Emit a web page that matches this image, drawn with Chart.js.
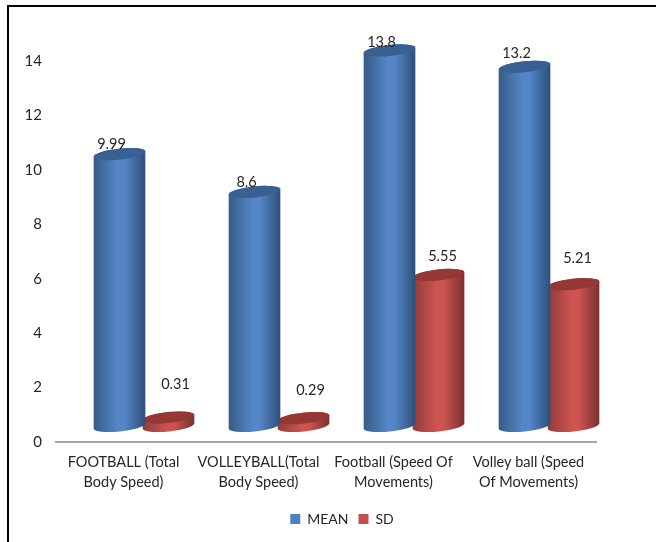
<!DOCTYPE html>
<html>
<head>
<meta charset="utf-8">
<title>Speed: mean and SD</title>
<style>
    html, body { margin: 0; padding: 0; background: #fff; }
    #wrap { position: relative; width: 656px; height: 542px; overflow: hidden; }
    #frame { position: absolute; left: 7px; top: 5px; right: -4px; bottom: -4px; border: 2px solid #000; }
    canvas { position: absolute; left: 0; top: 0; }
</style>
<script src="https://cdn.jsdelivr.net/npm/chart.js@4"></script>
</head>
<body>
<div id="wrap">
    <div id="frame"></div>
    <canvas id="speedChart" width="656" height="542"></canvas>
</div>
<script>
// Chart values
const categories = [
    ['FOOTBALL (Total', 'Body Speed)'],
    ['VOLLEYBALL(Total', 'Body Speed)'],
    ['Football (Speed Of', 'Movements)'],
    ['Volley ball (Speed', 'Of Movements)']
];
const meanValues = [9.99, 8.6, 13.8, 13.2];
const sdValues = [0.31, 0.29, 5.55, 5.21];
const yTicks = [0, 2, 4, 6, 8, 10, 12, 14];

// Label nudges from the top of each cylinder, [dx, dy] in px
const meanLabelNudge = [[-8, -10], [-8, -10], [-8, -8], [-8, -13]];
const sdLabelNudge = [[7, -33], [7, -28], [4, -19], [4, -26]];

const FONT = 'Lato, "Open Sans", sans-serif';
const TEXT_COLOR = '#262626';

// The cylinders stand back from the axis plane
const DEPTH_X = 20.5;
const DEPTH_Y = -16;
const TILT = -6 * Math.PI / 180;
const CAP_RY = 5.5;

const palettes = [
    { edgeL: '#365c86', mid: '#5485c6', edgeR: '#2d4f78', cap: '#386092', nudge: meanLabelNudge },
    { edgeL: '#8e3b39', mid: '#cd5451', edgeR: '#7a302e', cap: '#943735', nudge: sdLabelNudge }
];

function drawCylinder(ctx, bar, pal) {
    const cx = bar.x + DEPTH_X;
    const rx = bar.width / 2;
    const topY = bar.y + DEPTH_Y;
    const baseY = bar.base + DEPTH_Y;

    const grad = ctx.createLinearGradient(cx - rx, 0, cx + rx, 0);
    grad.addColorStop(0, pal.edgeL);
    grad.addColorStop(0.46, pal.mid);
    grad.addColorStop(0.6, pal.mid);
    grad.addColorStop(1, pal.edgeR);

    ctx.beginPath();
    ctx.ellipse(cx, baseY, rx, CAP_RY, TILT, 0, Math.PI);
    ctx.ellipse(cx, topY, rx, CAP_RY, TILT, Math.PI, 2 * Math.PI);
    ctx.closePath();
    ctx.fillStyle = grad;
    ctx.fill();

    ctx.beginPath();
    ctx.ellipse(cx, topY, rx, CAP_RY, TILT, 0, 2 * Math.PI);
    ctx.fillStyle = pal.cap;
    ctx.fill();
}

const cylinderPlugin = {
    id: 'cylinders',
    // Legend sits off-centre, under the bars
    afterLayout(chart) {
        const legend = chart.legend;
        const w = legend.right - legend.left;
        legend.left = 342 - w / 2;
        legend.right = legend.left + w;
        legend.top = 502;
    },
    beforeDatasetDraw(chart, args) {
        const ctx = chart.ctx;
        const pal = palettes[args.index];
        ctx.save();
        args.meta.data.forEach(bar => drawCylinder(ctx, bar, pal));
        ctx.restore();
        return false;
    },
    afterDatasetsDraw(chart) {
        const ctx = chart.ctx;
        ctx.save();
        ctx.font = '14.5px ' + FONT;
        ctx.fillStyle = TEXT_COLOR;
        ctx.textAlign = 'center';
        ctx.textBaseline = 'middle';
        chart.data.datasets.forEach((ds, i) => {
            chart.getDatasetMeta(i).data.forEach((bar, j) => {
                const nudge = palettes[i].nudge[j];
                ctx.fillText(String(ds.data[j]), bar.x + DEPTH_X + nudge[0], bar.y + DEPTH_Y + nudge[1]);
            });
        });
        ctx.restore();
    }
};

new Chart(document.getElementById('speedChart').getContext('2d'), {
    type: 'bar',
    plugins: [cylinderPlugin],
    data: {
        labels: categories,
        datasets: [
            { label: 'MEAN', data: meanValues, backgroundColor: '#4f81bd' },
            { label: 'SD', data: sdValues, backgroundColor: '#c0504d' }
        ]
    },
    options: {
        responsive: false,
        animation: false,
        categoryPercentage: 0.726,
        barPercentage: 1.06,
        layout: { padding: { top: 61, right: 60, left: 0, bottom: 0 } },
        plugins: {
            tooltip: { enabled: false },
            legend: {
                position: 'bottom',
                labels: {
                    boxWidth: 10,
                    boxHeight: 10,
                    padding: 10,
                    color: TEXT_COLOR,
                    font: { family: FONT, size: 14 }
                }
            }
        },
        scales: {
            x: {
                grid: { display: false, drawTicks: false },
                border: { color: '#a6a6a6', width: 2 },
                afterFit(scale) { scale.height = 66; },
                ticks: {
                    color: TEXT_COLOR,
                    padding: 10,
                    maxRotation: 0,
                    autoSkip: false,
                    font: { family: FONT, size: 14.5, lineHeight: 1.38 }
                }
            },
            y: {
                min: 0,
                max: 14,
                grid: { display: false, drawTicks: false },
                border: { display: false },
                afterFit(scale) { scale.width = 56; },
                afterBuildTicks(scale) { scale.ticks = yTicks.map(v => ({ value: v })); },
                ticks: {
                    color: TEXT_COLOR,
                    padding: 14,
                    font: { family: FONT, size: 15 }
                }
            }
        }
    }
});
</script>
</body>
</html>
